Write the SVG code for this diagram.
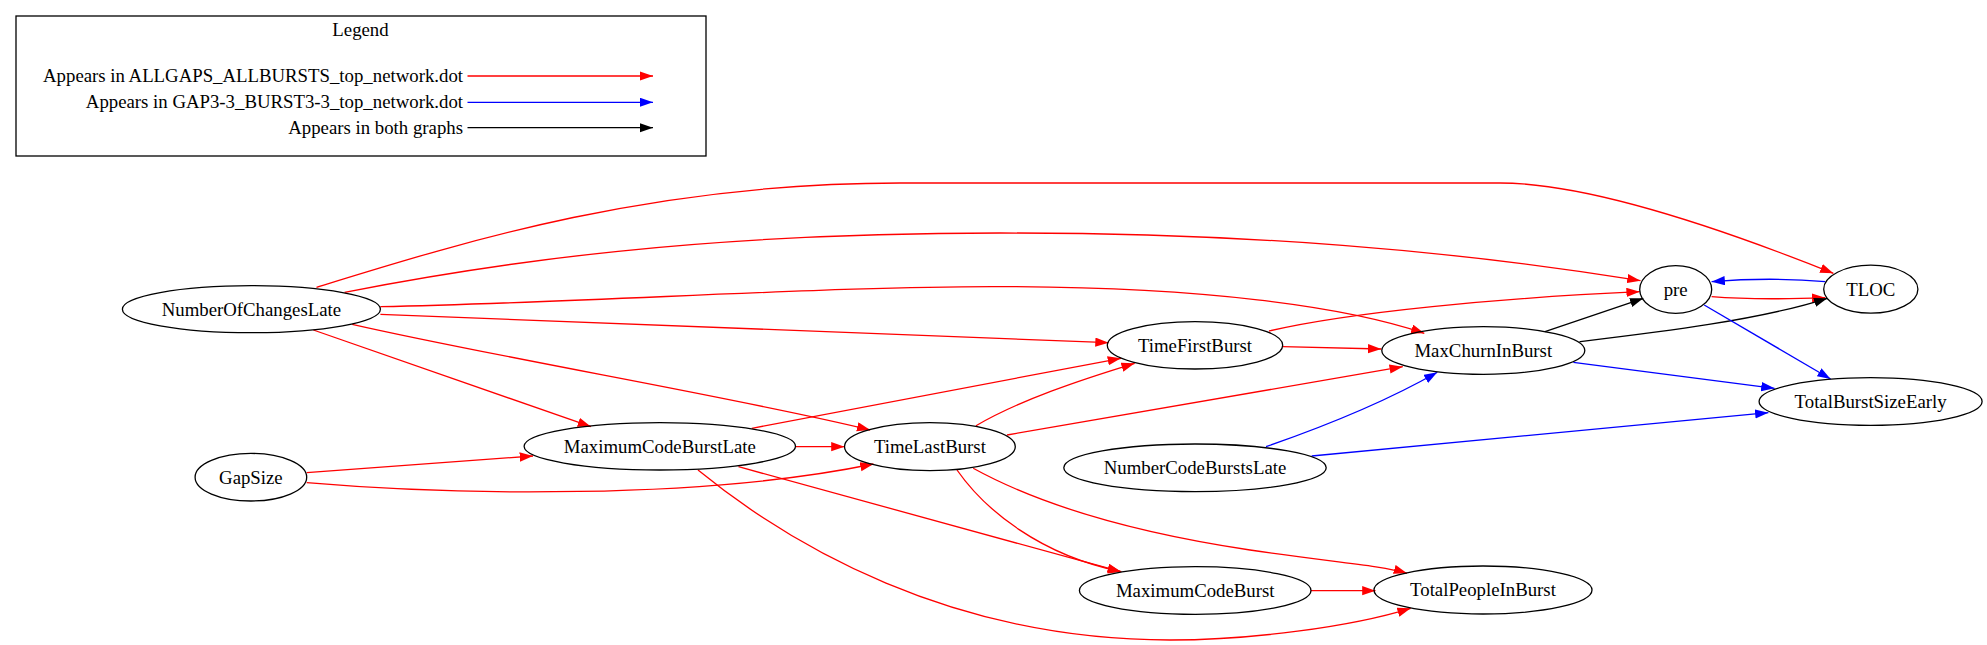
<svg xmlns="http://www.w3.org/2000/svg" width="1987" height="645" viewBox="0 0 1987 645">
<style>
text{font-family:"Liberation Serif","Times New Roman",serif;font-size:18.8px;fill:#000}
.n ellipse{fill:none;stroke:#000;stroke-width:1.3}
.e path{fill:none;stroke-width:1.3}
.r{stroke:#ff0000;marker-end:url(#ar)}
.b{stroke:#0000ff;marker-end:url(#ab)}
.k{stroke:#000000;marker-end:url(#ak)}
</style>
<defs>
<marker id="ar" markerUnits="userSpaceOnUse" markerWidth="14" markerHeight="10" refX="13.3" refY="4.67" orient="auto"><path d="M0,0 L13.3,4.67 L0,9.33 z" fill="#ff0000"/></marker>
<marker id="ab" markerUnits="userSpaceOnUse" markerWidth="14" markerHeight="10" refX="13.3" refY="4.67" orient="auto"><path d="M0,0 L13.3,4.67 L0,9.33 z" fill="#0000ff"/></marker>
<marker id="ak" markerUnits="userSpaceOnUse" markerWidth="14" markerHeight="10" refX="13.3" refY="4.67" orient="auto"><path d="M0,0 L13.3,4.67 L0,9.33 z" fill="#000000"/></marker>
</defs>
<rect width="1987" height="645" fill="#fff"/>
<g id="legend">
<rect x="16" y="16" width="690" height="140" fill="none" stroke="#000" stroke-width="1.3"/>
<text x="360.5" y="36" text-anchor="middle">Legend</text>
<text x="463" y="82" text-anchor="end">Appears in ALLGAPS_ALLBURSTS_top_network.dot</text>
<text x="463" y="108" text-anchor="end">Appears in GAP3-3_BURST3-3_top_network.dot</text>
<text x="463" y="134" text-anchor="end">Appears in both graphs</text>
<g class="e">
<path class="r" d="M467.5,76 L653,76"/>
<path class="b" d="M467.5,102.3 L653,102.3"/>
<path class="k" d="M467.5,127.7 L653,127.7"/>
</g>
</g>
<g id="edges" class="e">
<path class="r" d="M316.5,287.3 C460,243 650,183 900,183 L1500,183 C1580,183 1700,220 1833.4,273.3"/>
<path class="r" d="M344.6,292.3 C500,262 700,233 1000,233 C1250,233 1450,250 1640.5,280.7"/>
<path class="r" d="M380.4,306.7 C600,302 850,285 1015,286.7 C1200,288 1340,305 1424.3,333.3"/>
<path class="r" d="M380.4,314.3 L1108.6,342.7"/>
<path class="r" d="M352.2,324.3 C500,358 750,400 870.2,430"/>
<path class="r" d="M313.4,330 L591,426.7"/>
<path class="r" d="M306.7,472.7 L533,456"/>
<path class="r" d="M306.7,482.7 C450,495 700,500 873.5,464"/>
<path class="r" d="M795.6,446.7 L844.5,446.7"/>
<path class="r" d="M751.8,428.3 L1121,358.3"/>
<path class="r" d="M976,425.7 C1020,400 1080,380 1134.7,363.3"/>
<path class="r" d="M1007,435 L1402.8,366.7"/>
<path class="r" d="M1282.7,346.7 L1381.3,349"/>
<path class="r" d="M1269,331 C1350,312 1500,298 1639.7,291.7"/>
<path class="r" d="M1711.6,296.7 C1740,299 1790,299 1825.3,297.7"/>
<path class="r" d="M738.5,466.7 L1120.8,571.7"/>
<path class="r" d="M698,470 C790,545 950,640 1170,640 C1250,640 1350,627 1410.7,608.3"/>
<path class="r" d="M957,470 C985,510 1040,555 1121.4,571.7"/>
<path class="r" d="M973.2,468.3 C1040,505 1130,532 1250,550 C1330,562 1380,565 1407,573.3"/>
<path class="r" d="M1311,590.7 L1375.5,590.7"/>
<path class="k" d="M1545,331.7 L1643.3,298.3"/>
<path class="k" d="M1579.5,341.7 C1660,332 1760,320 1827.3,298.3"/>
<path class="b" d="M1825.3,281.7 C1790,278.5 1750,278.5 1711.6,281.7"/>
<path class="b" d="M1704.2,305 L1830.6,379"/>
<path class="b" d="M1573.4,362.3 L1774.5,388.3"/>
<path class="b" d="M1266,446.7 C1320,428 1380,405 1437.3,372.3"/>
<path class="b" d="M1311.7,456 L1768.4,412.7"/>
</g>
<g id="NumberOfChangesLate" class="n"><ellipse cx="251.4" cy="309.2" rx="129" ry="23.5"/><text x="251.4" y="315.5" text-anchor="middle">NumberOfChangesLate</text></g>
<g id="GapSize" class="n"><ellipse cx="250.9" cy="477.2" rx="55.8" ry="23.8"/><text x="250.9" y="483.5" text-anchor="middle">GapSize</text></g>
<g id="MaximumCodeBurstLate" class="n"><ellipse cx="659.8" cy="446.3" rx="135.7" ry="23.7"/><text x="659.8" y="452.6" text-anchor="middle">MaximumCodeBurstLate</text></g>
<g id="TimeLastBurst" class="n"><ellipse cx="929.9" cy="446.7" rx="85.4" ry="24"/><text x="929.9" y="453" text-anchor="middle">TimeLastBurst</text></g>
<g id="TimeFirstBurst" class="n"><ellipse cx="1195" cy="345.3" rx="87.7" ry="23.7"/><text x="1195" y="351.6" text-anchor="middle">TimeFirstBurst</text></g>
<g id="NumberCodeBurstsLate" class="n"><ellipse cx="1195" cy="467.8" rx="131.2" ry="23.8"/><text x="1195" y="474.1" text-anchor="middle">NumberCodeBurstsLate</text></g>
<g id="MaximumCodeBurst" class="n"><ellipse cx="1195.2" cy="590.5" rx="115.8" ry="23.8"/><text x="1195.2" y="596.8" text-anchor="middle">MaximumCodeBurst</text></g>
<g id="MaxChurnInBurst" class="n"><ellipse cx="1483.3" cy="350.5" rx="101.5" ry="23.8"/><text x="1483.3" y="356.8" text-anchor="middle">MaxChurnInBurst</text></g>
<g id="TotalPeopleInBurst" class="n"><ellipse cx="1483" cy="590" rx="109" ry="24"/><text x="1483" y="596.3" text-anchor="middle">TotalPeopleInBurst</text></g>
<g id="pre" class="n"><ellipse cx="1675.7" cy="289.5" rx="36" ry="23.8"/><text x="1675.7" y="295.8" text-anchor="middle">pre</text></g>
<g id="TLOC" class="n"><ellipse cx="1870.8" cy="289.2" rx="47.1" ry="24"/><text x="1870.8" y="295.5" text-anchor="middle">TLOC</text></g>
<g id="TotalBurstSizeEarly" class="n"><ellipse cx="1870.6" cy="401.5" rx="111.5" ry="23.8"/><text x="1870.6" y="407.8" text-anchor="middle">TotalBurstSizeEarly</text></g>
</svg>
